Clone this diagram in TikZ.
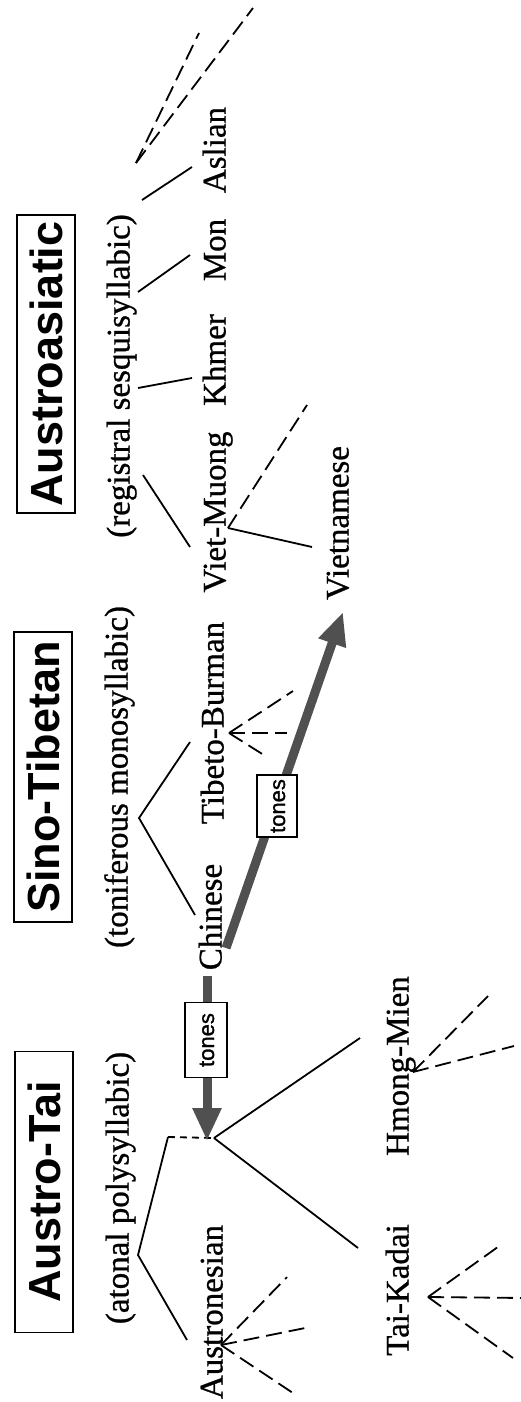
\documentclass[tikz,border=0pt]{standalone}
\usepackage{fontspec}
\setmainfont{Liberation Serif}
\setsansfont{Liberation Sans}
\newfontfamily\thickserif{Liberation Serif}[FakeBold=0.8]
\newfontfamily\thicksans{Liberation Sans}[FakeBold=1.2]
\usetikzlibrary{arrows.meta}
\definecolor{arrowgray}{RGB}{80,80,80}
\tikzset{
  lab/.style={rotate=90, inner sep=0pt, font=\thickserif\fontsize{33}{38}\selectfont, text height=22pt, text depth=7pt},
  headbox/.style={rotate=90, draw, line width=1.8pt, inner sep=0pt, minimum height=58pt,
    text height=32pt, text depth=0pt, font=\sffamily\bfseries\fontsize{45}{50}\selectfont},
  tonebox/.style={rotate=90, draw, fill=white, line width=1.6pt, inner sep=0pt,
    text height=16pt, text depth=0pt, font=\thicksans\fontsize{22}{26}\selectfont},
  tline/.style={line width=1.8pt},
  fan/.style={line width=1.8pt, dash pattern=on 16pt off 7pt},
  sdash/.style={line width=1.8pt, dash pattern=on 7pt off 5pt},
  bigarrow/.style={line width=9pt, draw=arrowgray, -{Triangle[length=33pt,width=27pt]}},
}
\begin{document}
\begin{tikzpicture}[x=1pt,y=-1pt]
\fill[white] (0,0) rectangle (521,1402);
\useasboundingbox (0,0) rectangle (521,1402);

% headers
\node[headbox, minimum width=281pt] (austrotai) at (44,1192) {Austro-Tai};
\node[headbox, minimum width=290pt] (sinotibetan) at (43,777) {Sino-Tibetan};
\node[headbox, minimum width=298pt] (austroasiatic) at (46,364) {Austroasiatic};

% subtitles
\node[lab] (atonal) at (121,1188) {(atonal polysyllabic)};
\node[lab] (toniferous) at (120,777) {(toniferous monosyllabic)};
\node[lab] (registral) at (122,376) {(registral sesquisyllabic)};

% language labels
\node[lab] (austronesian) at (215,1312) {Austronesian};
\node[lab] (taikadai) at (401,1290) {Tai-Kadai};
\node[lab] (hmongmien) at (401,1066) {Hmong-Mien};
\node[lab] (chinese) at (214,917) {Chinese};
\node[lab] (tibetoburman) at (216,723) {Tibeto-Burman};
\node[lab] (vietmuong) at (218,512) {Viet-Muong};
\node[lab] (khmer) at (218,360) {Khmer};
\node[lab] (mon) at (218,250) {Mon};
\node[lab] (aslian) at (218,150) {Aslian};
\node[lab] (vietnamese) at (341,523) {Vietnamese};

% coordinates
\coordinate (atA) at (138,1255);
\coordinate (atB) at (168,1137);
\coordinate (atC) at (187,1340);
\coordinate (jn) at (214,1138);
\coordinate (hmE) at (360,1038);
\coordinate (tkE) at (358,1248);

\coordinate (anV) at (221,1345);
\coordinate (an1) at (287,1277);
\coordinate (an2) at (310,1327);
\coordinate (an3) at (293,1393);

\coordinate (tkV) at (428,1297);
\coordinate (tk1) at (502,1244);
\coordinate (tk2) at (524,1298);
\coordinate (tk3) at (513,1358);

\coordinate (hmV) at (413,1072);
\coordinate (hm1) at (488,996);
\coordinate (hm2) at (514,1046);

\coordinate (stA) at (139,818);
\coordinate (stC) at (195,915);
\coordinate (stT) at (190,742);

\coordinate (tbV) at (229,733);
\coordinate (tb1) at (293,691);
\coordinate (tb2) at (287,733);
\coordinate (tb3) at (267,757);

\coordinate (vmV) at (228,528);
\coordinate (vm1) at (312,547);
\coordinate (vm2) at (307,405);

\coordinate (aa1s) at (143,475); \coordinate (aa1e) at (190,547);
\coordinate (aa2s) at (138,388); \coordinate (aa2e) at (192,378);
\coordinate (aa3s) at (138,292); \coordinate (aa3e) at (190,255);
\coordinate (aa4s) at (142,200); \coordinate (aa4e) at (192,167);
\coordinate (aaV) at (136,163);
\coordinate (aaX1) at (199,33);
\coordinate (aaX2) at (253,8);

\coordinate (t1s) at (207,976);
\coordinate (t1e) at (207,1141);
\coordinate (t2s) at (226,948);
\coordinate (t2e) at (343,612);

% Austro-Tai tree
\draw[tline] (atB) -- (atA) -- (atC);
\draw[sdash] (atB) -- (jn);
\draw[tline] (jn) -- (hmE);
\draw[tline] (jn) -- (tkE);
\foreach \e in {an1,an2,an3} \draw[fan] (anV) -- (\e);
\foreach \e in {tk1,tk2,tk3} \draw[fan] (tkV) -- (\e);
\foreach \e in {hm1,hm2} \draw[fan] (hmV) -- (\e);

% Sino-Tibetan tree
\draw[tline] (stT) -- (stA) -- (stC);
\foreach \e in {tb1,tb2,tb3} \draw[fan] (tbV) -- (\e);

% Austroasiatic tree
\draw[tline] (aa1s) -- (aa1e);
\draw[tline] (aa2s) -- (aa2e);
\draw[tline] (aa3s) -- (aa3e);
\draw[tline] (aa4s) -- (aa4e);
\draw[fan] (aaV) -- (aaX1);
\draw[fan] (aaV) -- (aaX2);
\draw[tline] (vmV) -- (vm1);
\draw[fan] (vmV) -- (vm2);

% tone arrows
\draw[bigarrow] (t1s) -- (t1e);
\draw[bigarrow] (t2s) -- (t2e);
\node[tonebox, minimum width=75pt, minimum height=42pt] (tones1) at (206,1040) {tones};
\node[tonebox, minimum width=62pt, minimum height=40pt] (tones2) at (277,806) {tones};
\end{tikzpicture}
\end{document}
